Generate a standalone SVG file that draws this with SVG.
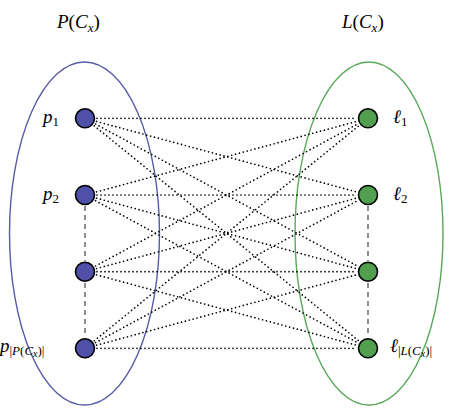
<svg xmlns="http://www.w3.org/2000/svg" width="460" height="408" viewBox="0 0 460 408">
<style>
.t{font-family:"Liberation Serif","DejaVu Serif",serif;font-size:19px;fill:#000}
.i{font-style:italic}
.s{font-size:13px}
.ss{font-size:10px}
.pn{fill:#5050a8;stroke:#000;stroke-width:1.6}
.gn{fill:#50a050;stroke:#000;stroke-width:1.6}
.dot{stroke:#000;stroke-width:1.7;stroke-linecap:round;stroke-dasharray:0 4;fill:none}
.dash{stroke:#333;stroke-width:1.1;stroke-dasharray:5 4;fill:none}
</style>
<rect width="460" height="408" fill="#fff"/>
<g id="set-P">
<ellipse cx="84.5" cy="233.5" rx="75" ry="171.5" fill="none" stroke="#5a5aa8" stroke-width="1.4"/>
<text class="t" x="57" y="28"><tspan class="i">P</tspan>(<tspan class="i">C</tspan><tspan class="s i" dy="4">x</tspan><tspan dy="-4">)</tspan></text>
</g>
<g id="set-L">
<ellipse cx="369" cy="233.5" rx="74" ry="171.5" fill="none" stroke="#5aa85a" stroke-width="1.4"/>
<text class="t" x="342" y="28"><tspan class="i">L</tspan>(<tspan class="i">C</tspan><tspan class="s i" dy="4">x</tspan><tspan dy="-4">)</tspan></text>
</g>
<g id="connectors">
<line class="dot" x1="97" y1="118.3" x2="356" y2="118.3"/>
<line class="dot" x1="96.58" y1="121.44" x2="356.42" y2="191.86"/>
<line class="dot" x1="95.55" y1="124.02" x2="357.45" y2="265.98"/>
<line class="dot" x1="94.31" y1="125.87" x2="358.69" y2="340.73"/>
<line class="dot" x1="96.58" y1="191.86" x2="356.42" y2="121.44"/>
<line class="dot" x1="97" y1="195" x2="356" y2="195"/>
<line class="dot" x1="96.58" y1="198.14" x2="356.42" y2="268.56"/>
<line class="dot" x1="95.55" y1="200.72" x2="357.45" y2="342.58"/>
<line class="dot" x1="95.55" y1="265.98" x2="357.45" y2="124.02"/>
<line class="dot" x1="96.58" y1="268.56" x2="356.42" y2="198.14"/>
<line class="dot" x1="97" y1="271.7" x2="356" y2="271.7"/>
<line class="dot" x1="96.58" y1="274.84" x2="356.42" y2="345.16"/>
<line class="dot" x1="94.31" y1="340.73" x2="358.69" y2="125.87"/>
<line class="dot" x1="95.55" y1="342.58" x2="357.45" y2="200.72"/>
<line class="dot" x1="96.58" y1="345.16" x2="356.42" y2="274.84"/>
<line class="dot" x1="97" y1="348.3" x2="356" y2="348.3"/>
<line class="dash" x1="85" y1="206" x2="85" y2="261"/>
<line class="dash" x1="85" y1="283" x2="85" y2="337"/>
<line class="dash" x1="368" y1="206" x2="368" y2="261"/>
<line class="dash" x1="368" y1="283" x2="368" y2="337"/>
</g>
<g id="p1"><circle class="pn" cx="85" cy="118.3" r="9.5"/><text class="t" x="43" y="123"><tspan class="i">p</tspan><tspan class="s" dy="3">1</tspan></text></g>
<g id="p2"><circle class="pn" cx="85" cy="195" r="9.5"/><text class="t" x="43" y="200"><tspan class="i">p</tspan><tspan class="s" dy="3">2</tspan></text></g>
<g id="p3"><circle class="pn" cx="85" cy="271.7" r="9.5"/></g>
<g id="p4"><circle class="pn" cx="85" cy="348.3" r="9.5"/><text class="t" x="0" y="352"><tspan class="i">p</tspan><tspan class="s" dy="3">|<tspan class="i">P</tspan>(<tspan class="i">C</tspan><tspan class="ss i" dy="2">x</tspan><tspan dy="-2">)|</tspan></tspan></text></g>
<g id="l1"><circle class="gn" cx="368" cy="118.3" r="9.5"/><text class="t" x="393" y="123"><tspan class="i">ℓ</tspan><tspan class="s" dy="3">1</tspan></text></g>
<g id="l2"><circle class="gn" cx="368" cy="195" r="9.5"/><text class="t" x="393" y="200"><tspan class="i">ℓ</tspan><tspan class="s" dy="3">2</tspan></text></g>
<g id="l3"><circle class="gn" cx="368" cy="271.7" r="9.5"/></g>
<g id="l4"><circle class="gn" cx="368" cy="348.3" r="9.5"/><text class="t" x="390" y="352"><tspan class="i">ℓ</tspan><tspan class="s" dy="3">|<tspan class="i">L</tspan>(<tspan class="i">C</tspan><tspan class="ss i" dy="2">x</tspan><tspan dy="-2">)|</tspan></tspan></text></g>
</svg>
